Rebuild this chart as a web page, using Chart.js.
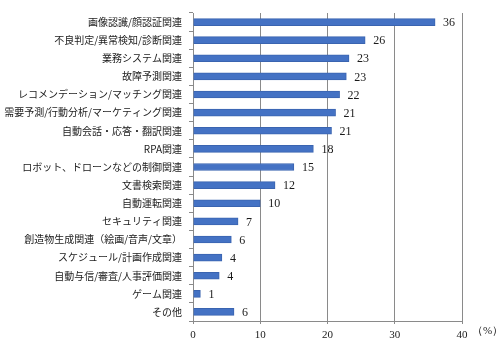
<!DOCTYPE html>
<html><head><meta charset="utf-8">
<script src="https://cdn.jsdelivr.net/npm/chart.js@4"></script>
<style>html,body{margin:0;padding:0;background:#fff}#wrap{width:500px;height:350px;position:relative}</style>
</head><body><div id="wrap"><canvas id="c"></canvas></div>
<script>
const categories = ["画像認識/顔認証関連","不良判定/異常検知/診断関連","業務システム関連","故障予測関連","レコメンデーション/マッチング関連","需要予測/行動分析/マーケティング関連","自動会話・応答・翻訳関連","RPA関連","ロボット、ドローンなどの制御関連","文書検索関連","自動運転関連","セキュリティ関連","創造物生成関連（絵画/音声/文章）","スケジュール/計画作成関連","自動与信/審査/人事評価関連","ゲーム関連","その他"];
const values = [36.0,25.6,23.2,22.8,21.8,21.2,20.6,17.9,15.0,12.2,10.0,6.7,5.7,4.3,3.9,1.1,6.1];
const valueLabels = ["36","26","23","23","22","21","21","18","15","12","10","7","6","4","4","1","6"];
const xTicks = [0,10,20,30,40];
const unitLabel = "（%）";

const labelPlugin = {
  id:'lbl',
  afterDatasetsDraw(chart){
    const ctx = chart.ctx;
    const meta = chart.getDatasetMeta(0);
    ctx.save();
    ctx.font = '12px "Liberation Serif"';
    ctx.fillStyle = '#1a1a1a';
    ctx.textBaseline = 'middle';
    ctx.textAlign = 'left';
    meta.data.forEach((el,i)=>{ ctx.fillText(valueLabels[i], el.x + 8, el.y + 1); });
    const xs = chart.scales.x;
    ctx.font = '11px "Liberation Serif"';
    ctx.fillText(unitLabel, xs.right + 10, xs.bottom - 19);
    ctx.restore();
  }
};

new Chart(document.getElementById('c'), {
  type:'bar',
  data:{labels:categories, datasets:[{data:values, backgroundColor:'#4472C4', borderColor:'#3A64B0', borderWidth:1, barThickness:7}]},
  options:{
    indexAxis:'y', responsive:true, maintainAspectRatio:false, animation:false,
    layout:{padding:{left:0,right:38,top:11,bottom:0}},
    plugins:{legend:{display:false}, tooltip:{enabled:false}},
    scales:{
      x:{min:0,max:40,
        afterBuildTicks(s){ s.ticks = xTicks.map(v=>({value:v})); },
        afterFit(s){ s.height = 29; },
        grid:{color:'#8a8a8a', lineWidth:1, tickLength:3},
        border:{color:'#8a8a8a'},
        ticks:{font:{family:'Liberation Serif', size:11}, color:'#1a1a1a', padding:5}
      },
      y:{
        afterFit(s){ s.width = 193; },
        grid:{drawOnChartArea:false, offset:true, tickLength:4, color:'#8a8a8a'},
        border:{color:'#8a8a8a'},
        ticks:{font:{family:'"Noto Sans CJK JP"', size:10}, color:'#1a1a1a', padding:7, autoSkip:false}
      }
    }
  },
  plugins:[labelPlugin]
});
</script></body></html>
